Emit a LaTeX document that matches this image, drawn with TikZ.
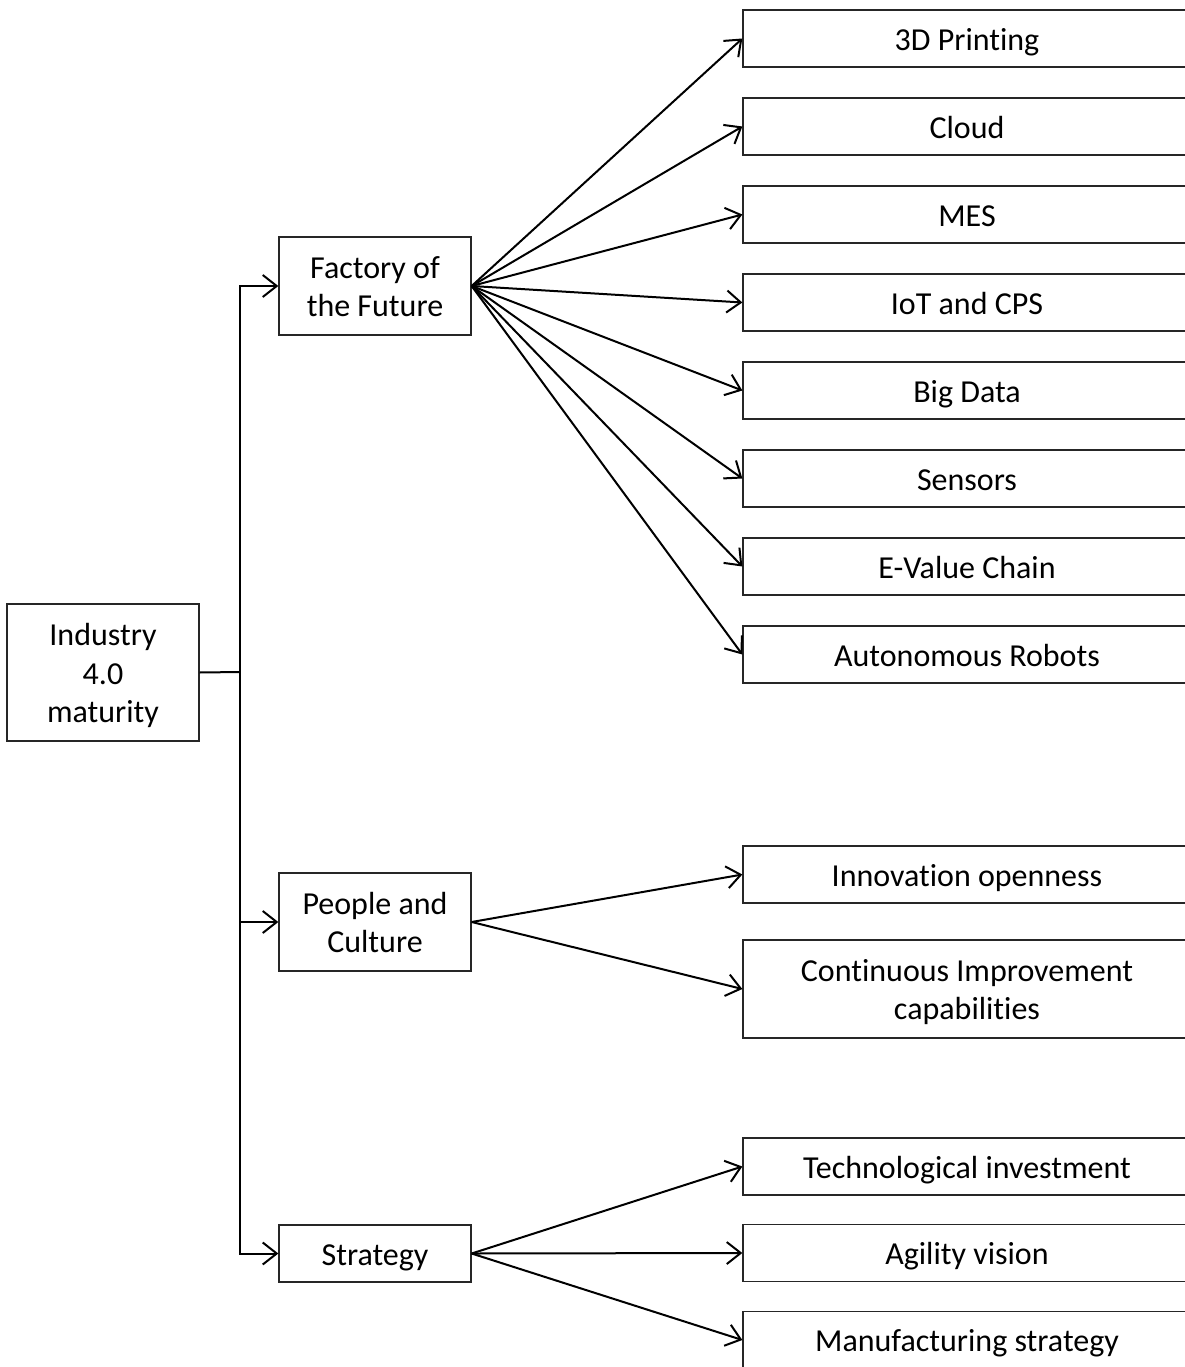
\documentclass[tikz,border=0pt]{standalone}
\usepackage{fontspec}
\setmainfont{Carlito}[RawFeature={-liga;-clig;-calt;-dlig}]
\usetikzlibrary{arrows.meta}
\newcommand{\topstrut}{\rule{0pt}{34pt}}
\newcommand{\botstrut}{\rule[-10.4pt]{0pt}{10.4pt}}
\newcommand{\mlines}[1]{\begin{tabular}{@{}c@{}}\rule{0pt}{35pt}#1\end{tabular}}
\begin{document}
\begin{tikzpicture}[x=1pt,y=-1pt,
  txt/.style={font=\fontsize{32}{38.5}\selectfont, inner sep=0pt, draw=black!85, line width=1.3pt,
    execute at begin node=\topstrut, execute at end node=\botstrut},
  midbox/.style={txt, minimum width=192pt, minimum height=98pt},
  leafbox/.style={txt, minimum width=448pt, minimum height=57pt},
  arr/.style={line width=2pt, -{Straight Barb[length=14pt,width=22pt,line width=2pt]}},
  plain/.style={line width=2pt}
]
\useasboundingbox (0,0) rectangle (1185,1367);
\clip (0,0) rectangle (1185,1367);
\fill[white] (0,0) rectangle (1185,1367);

% root and middle level
\node[midbox, minimum height=137pt] (root) at (103,672.5) {\mlines{Industry\\4.0\\maturity}};
\node[midbox] (fof) at (375,286) {\mlines{Factory of\\the Future}};
\node[midbox] (pc) at (375,922) {\mlines{People and\\Culture}};
\node[midbox, minimum height=57pt] (st) at (375,1253.5) {Strategy};

% leaves
\node[leafbox] (l1) at (967,38.5) {3D Printing};
\node[leafbox] (l2) at (967,126.5) {Cloud};
\node[leafbox] (l3) at (967,214.5) {MES};
\node[leafbox] (l4) at (967,302.5) {IoT and CPS};
\node[leafbox] (l5) at (967,390.5) {Big Data};
\node[leafbox] (l6) at (967,478.5) {Sensors};
\node[leafbox] (l7) at (967,566.5) {E-Value Chain};
\node[leafbox] (l8) at (967,654.5) {Autonomous Robots};
\node[leafbox] (p1) at (967,874.5) {Innovation openness};
\node[leafbox, minimum height=98pt] (p2) at (967,989) {\mlines{Continuous Improvement\\capabilities}};
\node[leafbox] (s1) at (967,1166.5) {Technological investment};
\node[leafbox] (s2) at (967,1253) {Agility vision};
\node[leafbox] (s3) at (967,1340) {Manufacturing strategy};

% trunk
\coordinate (trunk) at (240,672);
\draw[plain] (root.east) -- (trunk);
\draw[arr] (trunk) |- (fof.west);
\draw[arr] (trunk) |- (pc.west);
\draw[arr] (trunk) |- (st.west);

% fans
\foreach \n in {l1,l2,l3,l4,l5,l6,l7,l8}
  \draw[arr] (fof.east) -- (\n.west);
\foreach \n in {p1,p2}
  \draw[arr] (pc.east) -- (\n.west);
\foreach \n in {s1,s2,s3}
  \draw[arr] (st.east) -- (\n.west);
\end{tikzpicture}
\end{document}
